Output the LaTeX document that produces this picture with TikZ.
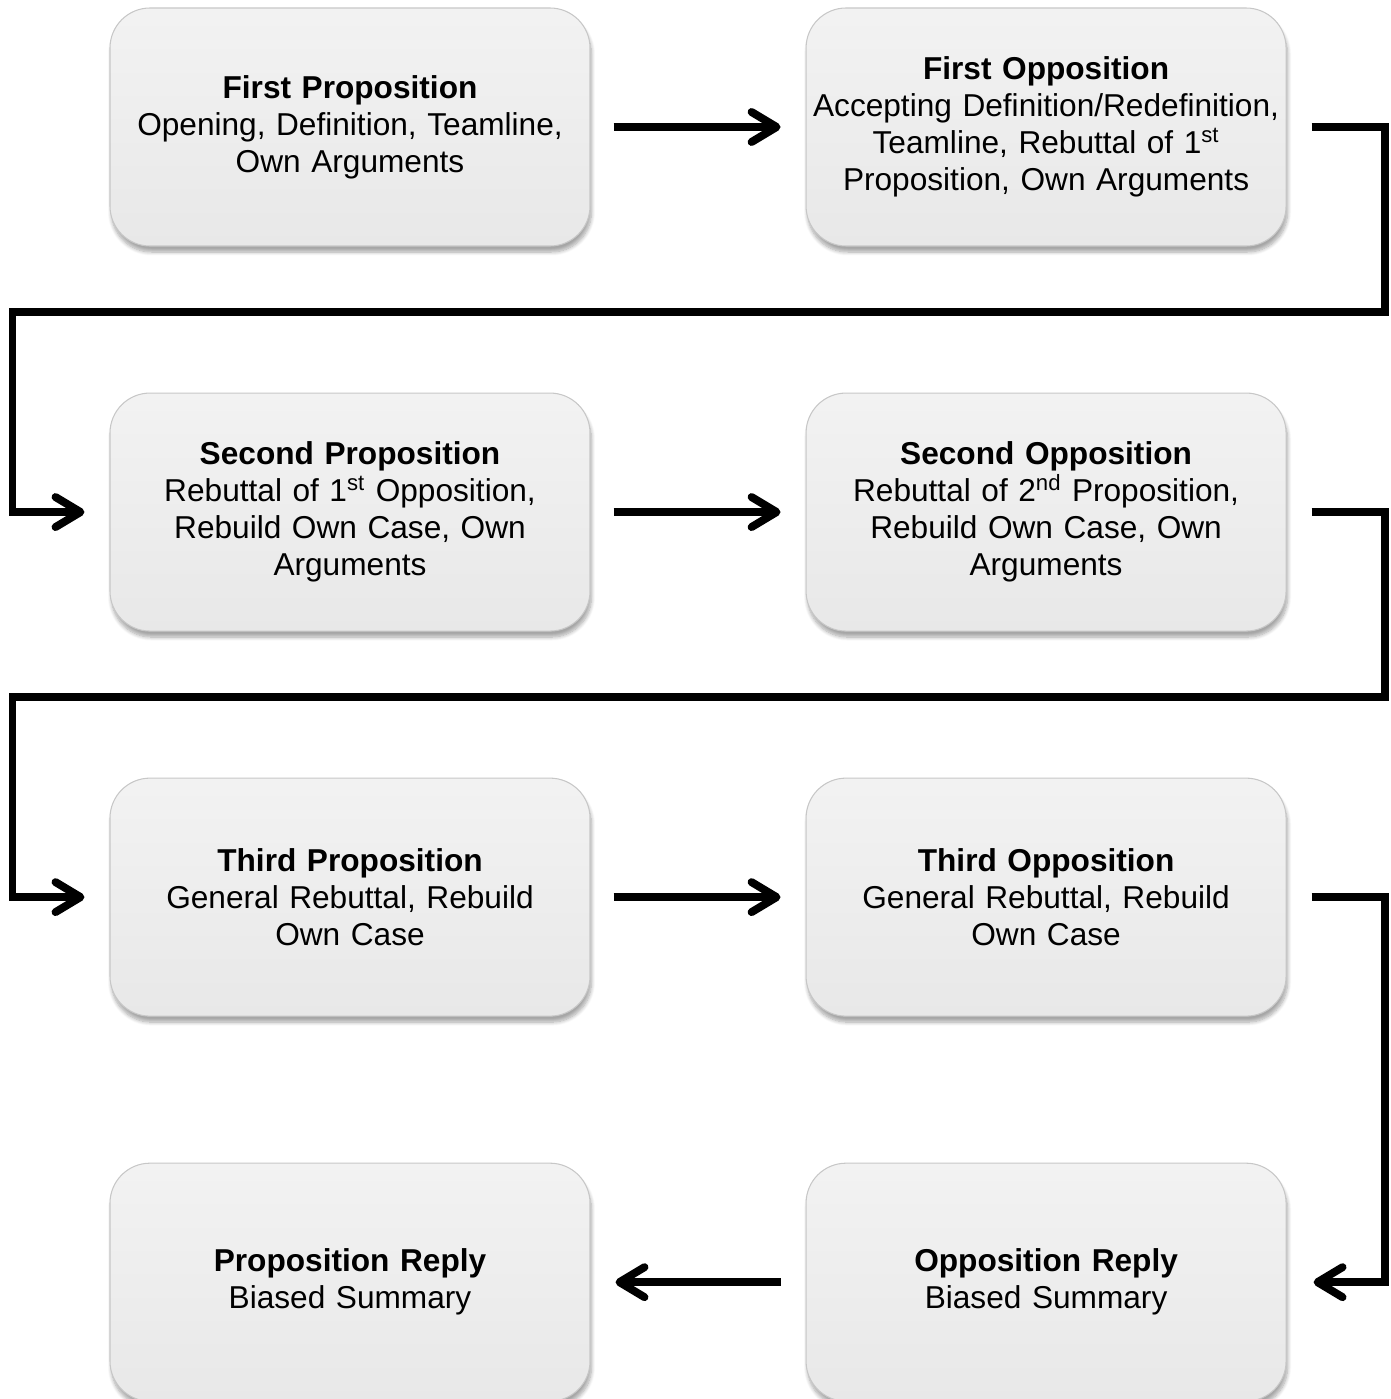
\documentclass[tikz,border=0pt]{standalone}
\usepackage{fontspec}
\setmainfont{Liberation Sans}
\usetikzlibrary{positioning,arrows.meta,calc,shadows.blur}

\begin{document}
\begin{tikzpicture}[
  every node/.style={align=center, font=\fontsize{18pt}{21pt}\selectfont},
  speech/.style={rounded corners=8mm, draw=black!22, line width=0.6pt,
    top color=black!5, bottom color=black!9,
    minimum width=9.6cm, minimum height=4.76cm, text width=9.6cm, inner xsep=0pt,
    blur shadow={shadow xshift=0.3mm, shadow yshift=-1.2mm, shadow blur steps=8, shadow opacity=35}},
  flow/.style={line width=4.5pt, line join=miter,
    -{Straight Barb[length=5mm, width=6mm, round]}},
  node distance=2.92cm and 4.3cm
]
\useasboundingbox (0,0) rectangle (27.8,-27.98);

\node[speech] (fprop) at (7.0,-2.54) {\textbf{First Proposition}\\Opening, Definition, Teamline,\\Own Arguments};
\node[speech] (fopp) [right=of fprop] {\textbf{First Opposition}\\Accepting Definition/Redefinition,\\Teamline, Rebuttal of 1\textsuperscript{st}\\Proposition, Own Arguments};

\node[speech] (sprop) [below=of fprop] {\textbf{Second Proposition}\\Rebuttal of 1\textsuperscript{st} Opposition,\\Rebuild Own Case, Own\\Arguments};
\node[speech] (sopp) [right=of sprop] {\textbf{Second Opposition}\\Rebuttal of 2\textsuperscript{nd} Proposition,\\Rebuild Own Case, Own\\Arguments};

\node[speech] (tprop) [below=of sprop] {\textbf{Third Proposition}\\General Rebuttal, Rebuild\\Own Case};
\node[speech] (topp) [right=of tprop] {\textbf{Third Opposition}\\General Rebuttal, Rebuild\\Own Case};

\node[speech] (rprop) [below=of tprop] {\textbf{Proposition Reply}\\Biased Summary};
\node[speech] (ropp) [right=of rprop] {\textbf{Opposition Reply}\\Biased Summary};

% turning points between the rows
\coordinate (gap1) at ($(fopp.south)!0.45!(sopp.north)$);
\coordinate (gap2) at ($(sopp.south)!0.45!(topp.north)$);

\draw[flow, shorten <=4.6mm, shorten >=5mm] (fprop) -- (fopp);
\draw[flow, shorten <=4.6mm, shorten >=5mm] (sprop) -- (sopp);
\draw[flow, shorten <=4.6mm, shorten >=5mm] (tprop) -- (topp);
\draw[flow, shorten <=5mm, shorten >=5mm] (ropp) -- (rprop);

\draw[flow] ([xshift=5mm]fopp.east) -| ([xshift=19.6mm]fopp.east |- gap1)
  -- ([xshift=-19.4mm]sprop.west |- gap1) |- ([xshift=-5mm]sprop.west);
\draw[flow] ([xshift=5mm]sopp.east) -| ([xshift=19.6mm]sopp.east |- gap2)
  -- ([xshift=-19.4mm]tprop.west |- gap2) |- ([xshift=-5mm]tprop.west);
\draw[flow] ([xshift=5mm]topp.east) -| ([xshift=19.6mm]ropp.east) -- ([xshift=5.4mm]ropp.east);
\end{tikzpicture}
\end{document}
